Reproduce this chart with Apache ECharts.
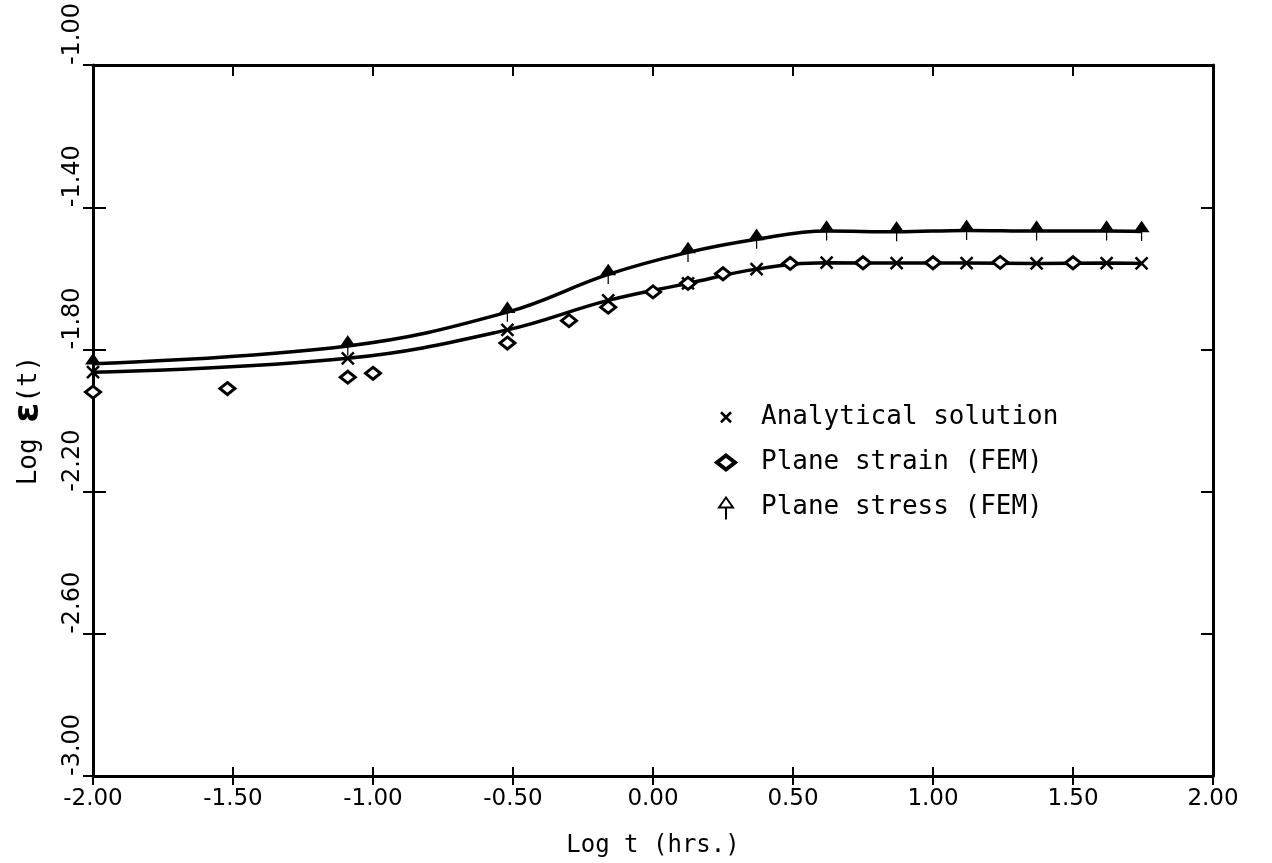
<!DOCTYPE html>
<html><head><meta charset="utf-8">
<script src="https://cdn.jsdelivr.net/npm/echarts@6/dist/echarts.min.js"></script>
<style>html,body{margin:0;padding:0;background:#fff}#chart{width:1272px;height:863px}</style>
</head><body><div id="chart"></div>
<script>
// ---- data ----
const xTickValues = [-2.0, -1.5, -1.0, -0.5, 0.0, 0.5, 1.0, 1.5, 2.0];
const xTickLabels = ['-2.00', '-1.50', '-1.00', '-0.50', '0.00', '0.50', '1.00', '1.50', '2.00'];
const yTickValues = [-3.0, -2.6, -2.2, -1.8, -1.4, -1.0];
const yTickLabels = ['-3.00', '-2.60', '-2.20', '-1.80', '-1.40', '-1.00'];

// Plane stress (FEM) - upper curve
const stressX = [-2.00, -1.09, -0.52, -0.16, 0.125, 0.37, 0.62, 0.87, 1.12, 1.37, 1.62, 1.745];
const stressY = [-1.840, -1.790, -1.695, -1.589, -1.527, -1.490, -1.467, -1.469, -1.465, -1.467, -1.467, -1.468];

// Analytical solution - lower curve
const analyticX = [-2.00, -1.09, -0.52, -0.16, 0.125, 0.37, 0.62, 0.87, 1.12, 1.37, 1.62, 1.745];
const analyticY = [-1.864, -1.825, -1.745, -1.662, -1.614, -1.574, -1.556, -1.557, -1.557, -1.558, -1.557, -1.558];

// Plane strain (FEM) - scattered points
const strainX = [-2.00, -1.52, -1.09, -1.00, -0.52, -0.30, -0.16, 0.00, 0.125, 0.25, 0.49, 0.75, 1.00, 1.24, 1.50];
const strainY = [-1.920, -1.910, -1.878, -1.867, -1.782, -1.719, -1.681, -1.638, -1.614, -1.587, -1.558, -1.556, -1.556, -1.555, -1.556];

const seriesNames = ['Analytical solution', 'Plane strain (FEM)', 'Plane stress (FEM)'];

// ---- build ----
const zip = (xs, ys) => xs.map((x, i) => [x, ys[i]]);
const fmtX = v => { const i = xTickValues.findIndex(t => Math.abs(t - v) < 1e-6); return i >= 0 ? xTickLabels[i] : ''; };
const fmtY = v => { const i = yTickValues.findIndex(t => Math.abs(t - v) < 1e-6); return i >= 0 ? yTickLabels[i] : ''; };

const triStem = 'path://M0,-8L6,1L-6,1ZM0,1L0,10';
const xMark = 'path://M-6,-6L6,6M6,-6L-6,6';
const diamond = 'path://M0,-7L9,0L0,7L-9,0Z';

const legX = 'path://M-12,-12M12,12M-5,-5L5,5M5,-5L-5,5';
const legDiamond = 'path://M-12,-12M12,12M0,-7L9,0L0,7L-9,0Z';
const legTri = 'path://M-12,-12M12,12M0,-10L7,0L-7,0ZM0,0L0,12';

const black = '#000';
const axisFont = 'DejaVu Sans';
const monoFont = 'DejaVu Sans Mono';

const lineOn = {show: true, onZero: false, lineStyle: {color: black, width: 3}};
const lineOff = {show: false, onZero: false};

const chart = echarts.init(document.getElementById('chart'), null, {renderer: 'canvas'});
chart.setOption({
  animation: false,
  backgroundColor: '#fff',
  grid: {left: 93, right: 59, top: 61, bottom: 87, containLabel: false},
  legend: {
    orient: 'vertical', left: 707, top: 399,
    itemWidth: 60, itemHeight: 24, itemGap: 18,
    textStyle: {fontFamily: monoFont, fontSize: 26, color: black},
    selectedMode: false,
    data: [
      {name: seriesNames[0], icon: legX, itemStyle: {color: black, borderColor: black, borderWidth: 2.5}},
      {name: seriesNames[1], icon: legDiamond, itemStyle: {color: '#fff', borderColor: black, borderWidth: 4}},
      {name: seriesNames[2], icon: legTri, itemStyle: {color: '#fff', borderColor: black, borderWidth: 2}}
    ]
  },
  xAxis: [
    {
      type: 'value', position: 'bottom', min: -2, max: 2, interval: 0.5,
      axisLine: lineOn,
      axisTick: {show: true, inside: false, length: 9, lineStyle: {color: black, width: 2}},
      axisLabel: {show: true, color: black, fontFamily: axisFont, fontSize: 23, margin: 12, formatter: fmtX},
      splitLine: {show: false},
      name: 'Log t (hrs.)', nameLocation: 'middle', nameGap: 58,
      nameTextStyle: {fontFamily: monoFont, fontSize: 24, color: black}
    },
    {
      type: 'value', position: 'bottom', min: -2, max: 2, interval: 0.5,
      axisLine: lineOff,
      axisTick: {show: true, inside: true, length: 9, lineStyle: {color: black, width: 2}},
      axisLabel: {show: false}, splitLine: {show: false}
    },
    {
      type: 'value', position: 'top', min: -2, max: 2, interval: 0.5,
      axisLine: lineOn,
      axisTick: {show: true, inside: true, length: 11, lineStyle: {color: black, width: 2}},
      axisLabel: {show: false}, splitLine: {show: false}
    }
  ],
  yAxis: [
    {
      type: 'value', position: 'left', min: -3, max: -1, interval: 0.4,
      axisLine: lineOn,
      axisTick: {show: true, inside: false, length: 10, lineStyle: {color: black, width: 2}},
      axisLabel: {show: true, rotate: 90, align: 'left', color: black, fontFamily: axisFont, fontSize: 24, margin: 8, formatter: fmtY},
      splitLine: {show: false},
      name: '{n|Log }{e|ε}{n|(t)}', nameLocation: 'middle', nameRotate: 90, nameGap: 46,
      nameTextStyle: {fontFamily: monoFont, fontSize: 26, color: black,
        rich: {
          n: {fontFamily: monoFont, fontSize: 26, color: black},
          e: {fontFamily: axisFont, fontWeight: 'bold', fontSize: 36, color: black}
        }}
    },
    {
      type: 'value', position: 'left', min: -3, max: -1, interval: 0.4,
      axisLine: lineOff,
      axisTick: {show: true, inside: true, length: 13, lineStyle: {color: black, width: 2}},
      axisLabel: {show: false}, splitLine: {show: false}
    },
    {
      type: 'value', position: 'right', min: -3, max: -1, interval: 0.4,
      axisLine: lineOn,
      axisTick: {show: true, inside: true, length: 12, lineStyle: {color: black, width: 2}},
      axisLabel: {show: false}, splitLine: {show: false}
    }
  ],
  series: [
    {
      name: seriesNames[0], type: 'line', xAxisIndex: 0, yAxisIndex: 0,
      data: zip(analyticX, analyticY), smooth: 0.4,
      lineStyle: {color: black, width: 3.5},
      symbol: xMark, symbolSize: 12, showSymbol: true,
      itemStyle: {color: black, borderColor: black, borderWidth: 2.5},
      z: 3
    },
    {
      name: seriesNames[1], type: 'scatter', xAxisIndex: 0, yAxisIndex: 0,
      data: zip(strainX, strainY),
      symbol: diamond, symbolSize: [15, 12],
      itemStyle: {color: '#fff', borderColor: black, borderWidth: 3, opacity: 1},
      z: 4
    },
    {
      name: seriesNames[2], type: 'line', xAxisIndex: 0, yAxisIndex: 0,
      data: zip(stressX, stressY), smooth: 0.4,
      lineStyle: {color: black, width: 3.5},
      symbol: triStem, symbolSize: [13, 19], showSymbol: true,
      itemStyle: {color: black, borderColor: black, borderWidth: 1.5},
      z: 3
    }
  ]
});
</script>
</body></html>
